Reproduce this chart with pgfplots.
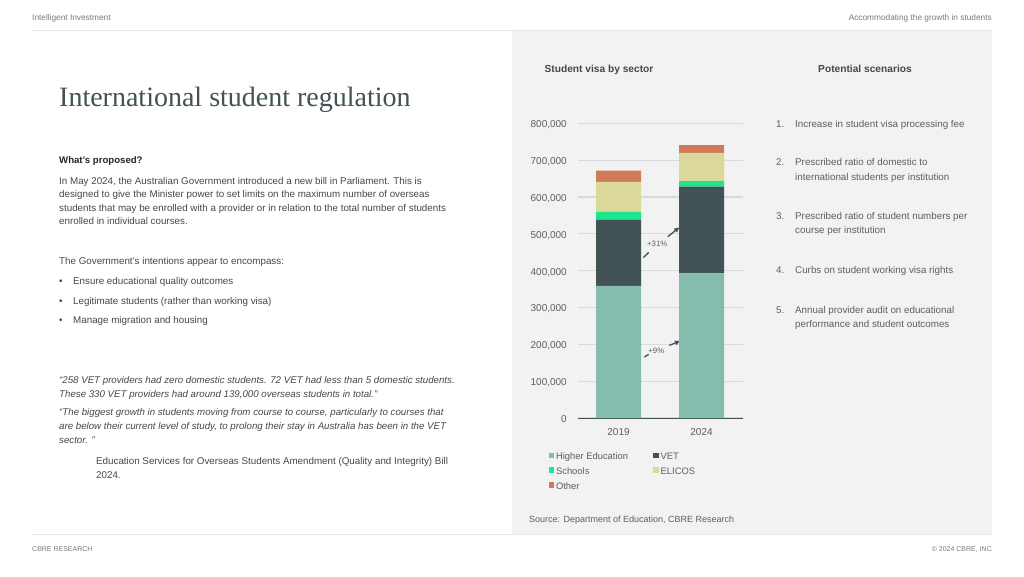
\documentclass[border=0pt]{standalone}
\usepackage{fontspec}
\setmainfont{Liberation Sans}
\newfontfamily\titlefont{Liberation Serif}
\usepackage{pgfplots}
\pgfplotsset{compat=1.18}
\usetikzlibrary{arrows.meta}

\definecolor{panel}{HTML}{F2F2F2}
\definecolor{rulec}{HTML}{E6E6E6}
\definecolor{heC}{HTML}{84BCAD}
\definecolor{vetC}{HTML}{435254}
\definecolor{schC}{HTML}{1CE68E}
\definecolor{eliC}{HTML}{DBD99A}
\definecolor{othC}{HTML}{D17A5A}
\definecolor{txt}{HTML}{474747}
\definecolor{soft}{HTML}{5E5E5E}
\definecolor{faint}{HTML}{7A7A7A}
\definecolor{gridC}{HTML}{D5DADA}

% one line of text, x and y in pixels from the top left corner
\newcommand\tx[4][]{\node[anchor=base west, inner sep=0pt, #1] at (#2pt,-#3pt) {#4};}

\begin{document}
\begin{tikzpicture}[
  body/.style={font=\fontsize{9.8}{11}\selectfont, text=txt},
  quote/.style={font=\fontsize{9.7}{11}\selectfont\itshape, text=txt},
  list/.style={font=\fontsize{9.8}{11}\selectfont, text=soft},
  small/.style={font=\fontsize{8.3}{9}\selectfont, text=faint},
]
\fill[white] (0,0) rectangle (1024pt,576pt);
\fill[panel] (512pt,42pt) rectangle (992pt,545pt);
\draw[rulec, line width=1pt] (32pt,545pt) -- (992pt,545pt);
\draw[rulec, line width=1pt] (32pt,42pt) -- (992pt,42pt);

\begin{scope}[shift={(0pt,576pt)}]
  % header and footer
  \tx[small]{32}{21}{Intelligent Investment}
  \tx[small, anchor=base east]{992}{21}{Accommodating the growth in students}
  \tx[small, font=\fontsize{7}{8}\selectfont]{32}{551}{CBRE RESEARCH}
  \tx[small, font=\fontsize{7}{8}\selectfont, anchor=base east]{992}{551}{© 2024 CBRE, INC}

  % left column
  \tx[font=\titlefont\fontsize{28}{30}\selectfont, text=vetC]{59}{106.5}{International student regulation}
  \tx[font=\fontsize{9.6}{11}\selectfont\bfseries, text=black!85]{59}{163.5}{What’s proposed?}
  \tx[body]{59}{184.5}{In May 2024, the Australian Government introduced a new bill in Parliament. This is}
  \tx[body]{59}{198}{designed to give the Minister power to set limits on the maximum number of overseas}
  \tx[body]{59}{211.5}{students that may be enrolled with a provider or in relation to the total number of students}
  \tx[body]{59}{225}{enrolled in individual courses.}
  \tx[body]{59}{264.5}{The Government’s intentions appear to encompass:}
  \tx[body]{59}{284.5}{•}\tx[body]{73}{284.5}{Ensure educational quality outcomes}
  \tx[body]{59}{304}{•}\tx[body]{73}{304}{Legitimate students (rather than working visa)}
  \tx[body]{59}{323.5}{•}\tx[body]{73}{323.5}{Manage migration and housing}
  \tx[quote]{59}{383.5}{“258 VET providers had zero domestic students. 72 VET had less than 5 domestic students.}
  \tx[quote]{59}{397.5}{These 330 VET providers had around 139,000 overseas students in total.”}
  \tx[quote]{59}{415.5}{“The biggest growth in students moving from course to course, particularly to courses that}
  \tx[quote]{59}{429.5}{are below their current level of study, to prolong their stay in Australia has been in the VET}
  \tx[quote]{59}{443.5}{sector. ”}
  \tx[body]{96}{464.5}{Education Services for Overseas Students Amendment (Quality and Integrity) Bill}
  \tx[body]{96}{478.5}{2024.}

  % panel headings
  \node[anchor=base, inner sep=0pt, font=\fontsize{10.2}{12}\selectfont\bfseries, text=black!72] at (599pt,-73pt) {Student visa by sector};
  \node[anchor=base, inner sep=0pt, font=\fontsize{10.2}{12}\selectfont\bfseries, text=black!72] at (865pt,-73pt) {Potential scenarios};

  % scenarios
  \tx[list]{776}{127.5}{1.}\tx[list]{795}{127.5}{Increase in student visa processing fee}
  \tx[list]{776}{165.5}{2.}\tx[list]{795}{165.5}{Prescribed ratio of domestic to}
  \tx[list]{795}{180.5}{international students per institution}
  \tx[list]{776}{219.5}{3.}\tx[list]{795}{219.5}{Prescribed ratio of student numbers per}
  \tx[list]{795}{233.5}{course per institution}
  \tx[list]{776}{273.5}{4.}\tx[list]{795}{273.5}{Curbs on student working visa rights}
  \tx[list]{776}{313.5}{5.}\tx[list]{795}{313.5}{Annual provider audit on educational}
  \tx[list]{795}{327.5}{performance and student outcomes}

  \tx[font=\fontsize{9}{10}\selectfont, text=soft]{529}{522.5}{Source: Department of Education, CBRE Research}
\end{scope}

\begin{axis}[
  at={(578pt,158pt)}, anchor=south west,
  scale only axis, width=165pt, height=294.6pt,
  ybar stacked, bar width=45pt,
  xmin=-0.488, xmax=1.5, ymin=0, ymax=800000,
  xtick={0,1}, xticklabels={2019,2024},
  ytick={0,100000,...,800000},
  scaled y ticks=false,
  /pgf/number format/fixed,
  /pgf/number format/1000 sep={,},
  /pgf/number format/assume math mode=true,
  axis line style={draw=none}, major tick length=0pt,
  ymajorgrids, grid style={gridC, line width=1.2pt},
  ticklabel style={font=\fontsize{10}{11}\selectfont, text=soft},
  yticklabel style={inner sep=0pt, xshift=-11pt, yshift=-1.5pt},
  xticklabel style={inner sep=0pt, yshift=-10pt},
  legend columns=2,
  legend cell align=left,
  legend image code/.code={\path[#1, draw=none] (0pt,-0.8pt) rectangle (5.5pt,4.7pt);},
  legend style={at={(-0.198,-0.105)}, anchor=north west, draw=none, fill=none,
    font=\fontsize{9.4}{10}\selectfont, text=soft, row sep=2.5pt,
    /tikz/every even column/.append style={column sep=23pt}},
]
\addplot[fill=heC, draw=none] coordinates {(0,359000) (1,393000)};
\addplot[fill=vetC, draw=none] coordinates {(0,180000) (1,235000)};
\addplot[fill=schC, draw=none] coordinates {(0,21000) (1,15000)};
\addplot[fill=eliC, draw=none] coordinates {(0,81000) (1,77000)};
\addplot[fill=othC, draw=none] coordinates {(0,31000) (1,21000)};
\legend{Higher Education, VET, Schools, ELICOS, Other}
\draw[vetC, line width=1pt] (axis cs:-0.488,0) -- (axis cs:1.5,0);
% growth arrows between the bars
\draw[vetC, line width=1.3pt] (axis cs:0.299,435300) -- (axis cs:0.364,449700);
\draw[vetC, line width=1.3pt, -{Triangle[length=5pt,width=4.5pt]}] (axis cs:0.593,492300) -- (axis cs:0.732,517600);
\node[font=\fontsize{7.8}{8}\selectfont, text=soft, inner sep=0pt] at (axis cs:0.467,472500) {+31\%};
\draw[vetC, line width=1.3pt] (axis cs:0.311,165600) -- (axis cs:0.364,172700);
\draw[vetC, line width=1.3pt, -{Triangle[length=5pt,width=4.5pt]}] (axis cs:0.612,197100) -- (axis cs:0.741,209100);
\node[font=\fontsize{7.8}{8}\selectfont, text=soft, inner sep=0pt] at (axis cs:0.455,183600) {+9\%};
\end{axis}
\end{tikzpicture}
\end{document}
